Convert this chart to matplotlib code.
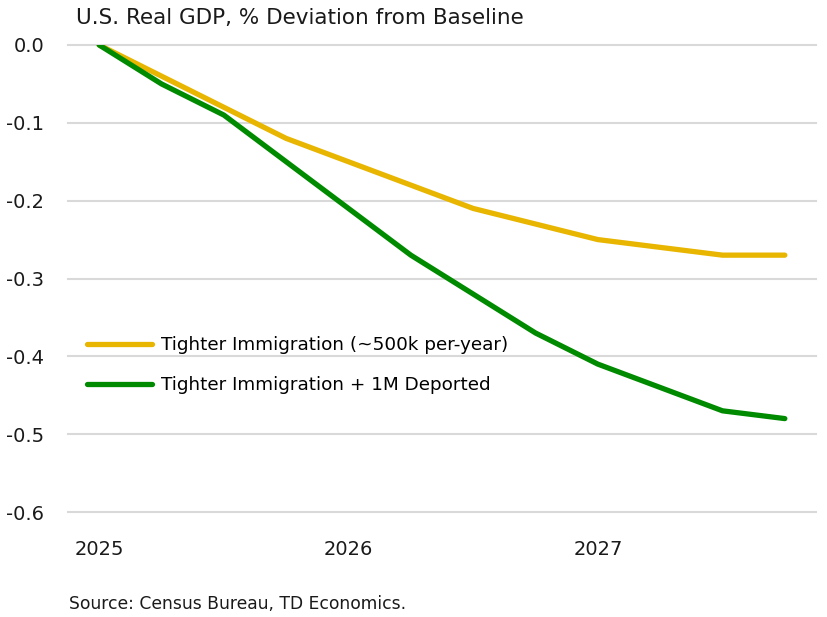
import matplotlib
matplotlib.use("Agg")
from matplotlib import pyplot as plt

c_yellow = "#e8b500"
c_green = "#008a00"
c_grid = "#d9d9d9"

plt.rcParams["font.family"] = ["DejaVu Sans"]

quarters = list(range(12))
year_ticks = [0, 4, 8]
year_labels = ["2025", "2026", "2027"]
tighter = [0.0, -0.04, -0.08, -0.12, -0.15, -0.18, -0.21, -0.23, -0.25, -0.26, -0.27, -0.27]
deported = [0.0, -0.05, -0.09, -0.15, -0.21, -0.27, -0.32, -0.37, -0.41, -0.44, -0.47, -0.48]
y_ticks = [0.0, -0.1, -0.2, -0.3, -0.4, -0.5, -0.6]

fig = plt.figure(figsize=(8.27, 6.17), dpi=100)
ax = fig.add_axes([68 / 827, 1 - 512 / 617, (816 - 68) / 827, (512 - 45) / 617])

ax.plot(quarters, tighter, color=c_yellow, lw=3.8, solid_capstyle="round",
        label="Tighter Immigration (~500k per-year)", zorder=3)
ax.plot(quarters, deported, color=c_green, lw=3.8, solid_capstyle="round",
        label="Tighter Immigration + 1M Deported", zorder=3)

ax.set_xlim(-0.5, 11.5)
ax.set_ylim(-0.6, 0.0)
ax.set_yticks(y_ticks)
ax.set_yticklabels([f"{v:.1f}" for v in y_ticks])
ax.set_xticks(year_ticks)
ax.set_xticklabels(year_labels)
ax.tick_params(axis="both", length=0, labelsize=14, colors="#1a1a1a")
ax.tick_params(axis="y", pad=17)
ax.tick_params(axis="x", pad=20)
ax.grid(axis="y", color=c_grid, lw=1.5)
for g in ax.get_ygridlines():
    g.set_clip_on(False)
for s in ax.spines.values():
    s.set_visible(False)

ax.legend(loc="upper left", bbox_to_anchor=(12 / 748, 1 - 284 / 467), frameon=False,
          fontsize=13.2, handlelength=3.55, handletextpad=0.45, labelspacing=1.2,
          borderaxespad=0)

fig.text(76 / 827, 1 - 18 / 617, "U.S. Real GDP, % Deviation from Baseline",
         fontsize=15.5, va="center", ha="left", color="#1a1a1a")
fig.text(69 / 827, 1 - 604 / 617, "Source: Census Bureau, TD Economics.",
         fontsize=12.3, va="center", ha="left", color="#1a1a1a")

plt.savefig("out.png", dpi=100)
